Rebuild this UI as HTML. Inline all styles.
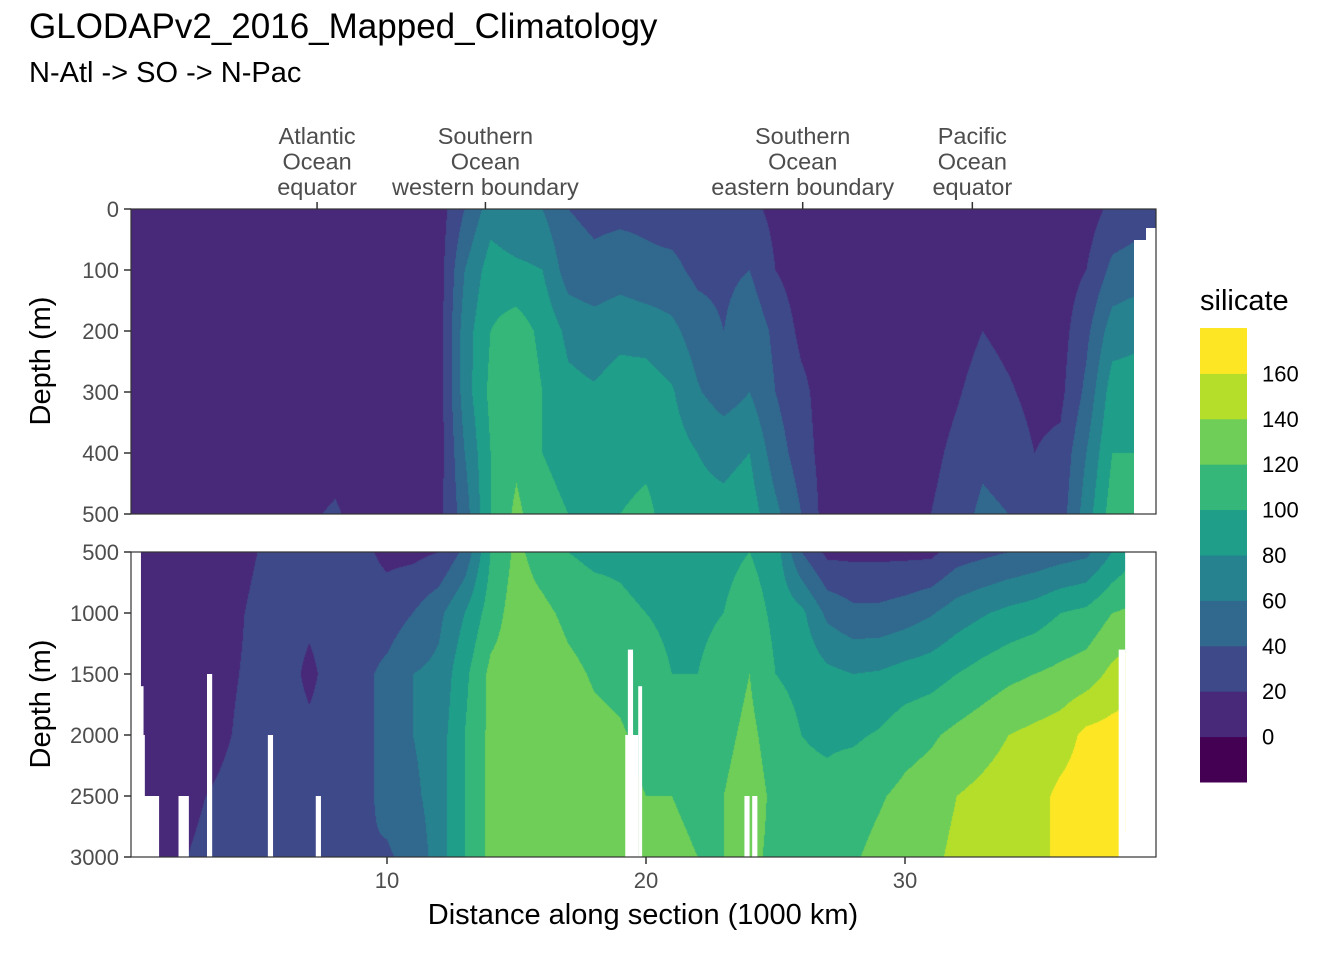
<!DOCTYPE html>
<html><head><meta charset="utf-8">
<style>
body{margin:0;background:#fff;width:1344px;height:960px;overflow:hidden;font-family:"Liberation Sans",sans-serif;}
.abs{position:absolute;}
canvas{position:absolute;}
</style></head>
<body>
<div class="abs" style="left:29px;top:7px;font-size:35px;color:#000">GLODAPv2_2016_Mapped_Climatology</div>
<div class="abs" style="left:29px;top:57px;font-size:29px;color:#000">N-Atl -&gt; SO -&gt; N-Pac</div>
<canvas id="c1" width="1025" height="305" style="left:131px;top:209px"></canvas>
<canvas id="c2" width="1025" height="305" style="left:131px;top:552px"></canvas>
<svg id="ov" class="abs" style="left:0;top:0" width="1344" height="960"></svg>
<script>
const colors=['#440154','#482878','#3E4989','#31688E','#26828E','#1F9E89','#35B779','#6ECE58','#B5DE2B','#FDE725'];
const legendLabels=['0','20','40','60','80','100','120','140','160'];
const topDepths=[0,100,200,300,400,500];
const botDepths=[500,1000,1500,2000,2500,3000];
const distances=[0,1,2,3,4,5,6,7,8,9,10,11,12,13,14,15,16,17,18,19,20,21,22,23,24,25,26,27,28,29,30,31,32,33,34,35,36,37,38,39];
const topValues=[
[10,10,10,10,10,10],[10,10,10,10,10,10],[10,10,10,10,10,10],[10,10,10,10,10,10],[10,10,10,10,10,10],
[10,10,10,10,10,10],[10,10,10,10,10,12],[10,10,10,10,12,18],[10,10,10,10,14,22],[10,10,10,10,10,14],
[10,10,10,10,10,10],[10,10,10,10,10,10],[10,10,10,10,10,15],[40,60,70,70,60,50],[70,90,100,105,100,100],
[60,85,110,115,115,125],[60,80,95,100,100,105],[40,50,75,85,95,100],[35,45,70,82,95,100],[35,50,75,88,92,100],
[35,45,72,90,95,105],[30,45,65,82,90,90],[30,35,50,62,80,85],[30,35,40,50,75,85],[25,40,55,60,80,90],
[15,20,35,40,50,65],[10,10,15,25,30,40],[5,10,10,10,10,10],[10,10,10,10,10,10],[10,10,10,10,10,10],
[10,10,10,10,10,10],[10,10,10,10,15,20],[10,10,12,18,25,30],[10,10,20,28,35,45],[10,10,15,22,30,40],
[10,10,12,15,20,25],[10,10,12,15,25,30],[10,20,35,45,60,70],[25,45,70,90,100,110],[30,50,75,90,100,110]];
const botValues=[
[10,10,10,10,10,10],[10,10,10,10,10,15],[10,10,10,10,12,18],[10,10,10,12,20,25],[10,15,18,20,25,25],
[20,25,25,28,30,30],[25,30,30,30,30,30],[25,25,15,25,30,30],[25,30,30,30,30,35],[25,30,35,35,35,40],
[15,30,45,45,45,38],[15,40,60,60,55,45],[20,55,65,70,70,70],[45,80,95,100,100,100],[100,110,125,125,125,125],
[125,130,130,135,130,130],[110,125,135,140,135,130],[100,115,125,130,135,130],[95,110,118,125,128,130],[95,105,115,122,125,128],
[90,100,110,115,120,130],[90,95,100,110,120,125],[90,95,100,105,115,120],[95,100,110,115,120,120],[100,110,120,125,130,125],
[90,95,100,110,115,115],[40,85,95,100,105,110],[15,55,85,97,105,105],[15,45,80,97,112,118],[15,45,82,102,118,125],
[15,50,88,112,125,130],[15,58,92,117,130,135],[30,70,100,125,140,145],[35,78,108,132,145,148],[40,85,115,140,150,150],
[45,90,120,145,152,152],[50,100,125,150,165,165],[55,105,130,165,170,170],[80,120,145,168,170,170],[100,125,155,170,170,170]];
const topTicks=[0,100,200,300,400,500];
const botTicks=[500,1000,1500,2000,2500,3000];
const xTicks=[10,20,30];
const sectionLabels=[[7.3,'Atlantic','Ocean','equator'],[13.8,'Southern','Ocean','western boundary'],[26.05,'Southern','Ocean','eastern boundary'],[32.6,'Pacific','Ocean','equator']];
const gaps=[[0,0.5,500],[0,0.35,1200],[0,0.6,1600],[0,0.65,2000],[0,1.2,2500],[1.95,2.35,2500],[3.05,3.25,1500],[5.4,5.6,2000],[7.25,7.45,2500],[19.2,19.7,2000],[19.3,19.5,1300],[19.7,19.85,1600],[23.8,24.0,2500],[24.1,24.3,2500],[38.45,40,2800],[38.25,38.5,1300],[38.5,40,500]];

const X0=128,XS=25.9,PL=131,PR=1156;
const xs=d=>X0+d*XS;
const yTop=v=>209+(v/500)*305;
const yBot=v=>552+((v-500)/2500)*305;

function sample(vals,depths,d,z){
  let i=Math.max(0,Math.min(distances.length-1.0001,d));
  let i0=Math.floor(i),fx=i-i0;
  let zz=(z-depths[0])/(depths[1]-depths[0]);
  zz=Math.max(0,Math.min(depths.length-1.0001,zz));
  let j0=Math.floor(zz),fy=zz-j0;
  const a=vals[i0][j0],b=vals[i0+1][j0],c=vals[i0][j0+1],e=vals[i0+1][j0+1];
  return (a*(1-fx)+b*fx)*(1-fy)+(c*(1-fx)+e*fx)*fy;
}
function draw(id,vals,depths,yfn){
  const cv=document.getElementById(id),ctx=cv.getContext('2d');
  const img=ctx.createImageData(1025,305);
  const rgb=colors.map(h=>[parseInt(h.substr(1,2),16),parseInt(h.substr(3,2),16),parseInt(h.substr(5,2),16)]);
  const y0=yfn(depths[0]),y1=yfn(depths[depths.length-1]);
  for(let py=0;py<305;py++){
    const z=depths[0]+(py+0.5)/(y1-y0)*(depths[depths.length-1]-depths[0]);
    for(let px=0;px<1025;px++){
      const d=(px+PL+0.5-X0)/XS;
      const v=sample(vals,depths,d,z);
      let k=v<0?0:Math.min(9,Math.floor(v/20)+1);
      const o=(py*1025+px)*4;
      img.data[o]=rgb[k][0];img.data[o+1]=rgb[k][1];img.data[o+2]=rgb[k][2];img.data[o+3]=255;
    }
  }
  ctx.putImageData(img,0,0);
}
draw('c1',topValues,topDepths,yTop);
draw('c2',botValues,botDepths,yBot);

const svg=document.getElementById('ov');const NS='http://www.w3.org/2000/svg';
function el(t,a,p){const e=document.createElementNS(NS,t);for(const k in a)e.setAttribute(k,a[k]);(p||svg).appendChild(e);return e;}
gaps.forEach(g=>{
  const r=el('rect',{x:Math.max(PL,xs(g[0])),y:yBot(g[2]),width:Math.min(PR,xs(g[1]))-Math.max(PL,xs(g[0])),height:857-yBot(g[2]),fill:'#fff'});
  
  
});
{const r=el('rect',{x:1134,y:240,width:22,height:274,fill:'#fff'});}
{const r=el('rect',{x:1146,y:228,width:10,height:14,fill:'#fff'});}
[[209,514],[552,857]].forEach(p=>{const r=el('rect',{x:131,y:p[0],width:1025,height:p[1]-p[0],fill:'none',stroke:'#333','stroke-width':1.2});});
function ytick(v,yfn,name){
  const y=yfn(v);
  el('line',{x1:124,x2:131,y1:y,y2:y,stroke:'#333','stroke-width':1.5});
  const t=el('text',{x:119,y:y+8,'text-anchor':'end','font-size':22,fill:'#4D4D4D'});t.textContent=v;
  
}
topTicks.forEach(v=>ytick(v,yTop,'y-tick-label-top'));
botTicks.forEach(v=>ytick(v,yBot,'y-tick-label-bottom'));
xTicks.forEach(v=>{
  const x=xs(v);el('line',{x1:x,x2:x,y1:857,y2:864,stroke:'#333','stroke-width':1.5});
  const t=el('text',{x:x,y:888,'text-anchor':'middle','font-size':22,fill:'#4D4D4D'});t.textContent=v;
  
});
sectionLabels.forEach(s=>{
  const x=xs(s[0]);el('line',{x1:x,x2:x,y1:202,y2:209,stroke:'#333','stroke-width':1.5});
  const t=el('text',{x:x,'text-anchor':'middle','font-size':23.5,fill:'#4D4D4D'});
  
  [s[1],s[2],s[3]].forEach((l,i)=>{const ts=el('tspan',{x:x,y:144+i*25.5},t);ts.textContent=l;});
});
const xt=el('text',{x:643,y:924,'text-anchor':'middle','font-size':29,fill:'#000'});xt.textContent='Distance along section (1000 km)';

[[361],[704]].forEach(p=>{const t=el('text',{x:50,y:p[0],'text-anchor':'middle','font-size':29,fill:'#000',transform:`rotate(-90 50 ${p[0]})`});t.textContent='Depth (m)';
});
const lt=el('text',{x:1200,y:310,'font-size':29,fill:'#000'});lt.textContent='silicate';

const LH=45.4;
colors.forEach((c,i)=>{const r=el('rect',{x:1200,y:782-(i+1)*LH,width:47,height:LH+0.5,fill:c});
});
legendLabels.forEach((l,i)=>{const y=782-(i+1)*LH;const t=el('text',{x:1262,y:y+8,'font-size':22,fill:'#000'});t.textContent=l;
});
</script>
</body></html>
